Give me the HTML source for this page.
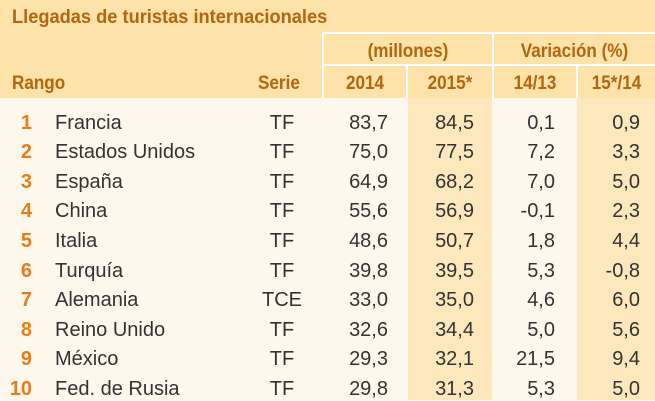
<!DOCTYPE html>
<html><head><meta charset="utf-8"><style>
body{margin:0;width:655px;height:400px;overflow:hidden;background:#fef7ec;font-family:"Liberation Sans",sans-serif;position:relative}
.a{position:absolute;white-space:nowrap}
.h{color:#b4650e;font-weight:bold;font-size:19px}
.hs{transform:scaleX(.9)}
.r{color:#e87c18;font-size:20px;font-weight:bold;text-align:right;width:30px;left:2px}
.t{color:#333;font-size:20px}
.n{text-align:right;width:80px}
.c{text-align:center}
</style></head><body>
<div class="a" style="left:0;top:0;width:655px;height:98px;background:#fde3a9"></div>
<div class="a" style="left:408px;top:98px;width:84px;height:302px;background:#fde7bd"></div>
<div class="a" style="left:577px;top:98px;width:78px;height:302px;background:#fde7bd"></div>
<div class="a" style="left:323px;top:32px;width:332px;height:2px;background:#fff"></div>
<div class="a" style="left:323px;top:64px;width:332px;height:2px;background:#fff"></div>
<div class="a" style="left:322px;top:32px;width:2px;height:66px;background:#fff"></div>
<div class="a" style="left:492px;top:32px;width:2px;height:66px;background:#fff"></div>
<div class="a" style="left:406px;top:64px;width:2px;height:34px;background:#fff"></div>
<div class="a" style="left:576px;top:64px;width:2px;height:34px;background:#fff"></div>
<div class="a h" style="left:12px;top:7px;transform:scaleX(.96);transform-origin:left">Llegadas de turistas internacionales</div>
<div class="a h hs" style="left:12px;top:73px;transform-origin:left">Rango</div>
<div class="a h hs" style="left:258px;top:73px;transform-origin:left">Serie</div>
<div class="a h c hs" style="left:324px;top:41px;width:168px">(millones)</div>
<div class="a h c hs" style="left:494px;top:41px;width:161px">Variación (%)</div>
<div class="a h c hs" style="left:324px;top:73px;width:82px">2014</div>
<div class="a h c hs" style="left:408px;top:73px;width:84px">2015*</div>
<div class="a h c hs" style="left:494px;top:73px;width:82px">14/13</div>
<div class="a h c hs" style="left:578px;top:73px;width:77px">15*/14</div>
<div id="rows"></div>
<script>
var d=[["1","Francia","TF","83,7","84,5","0,1","0,9"],["2","Estados Unidos","TF","75,0","77,5","7,2","3,3"],["3","España","TF","64,9","68,2","7,0","5,0"],["4","China","TF","55,6","56,9","-0,1","2,3"],["5","Italia","TF","48,6","50,7","1,8","4,4"],["6","Turquía","TF","39,8","39,5","5,3","-0,8"],["7","Alemania","TCE","33,0","35,0","4,6","6,0"],["8","Reino Unido","TF","32,6","34,4","5,0","5,6"],["9","México","TF","29,3","32,1","21,5","9,4"],["10","Fed. de Rusia","TF","29,8","31,3","5,3","5,0"]];
var h="";d.forEach(function(r,i){var y=111.5+i*29.6;
h+='<div class="a r" style="top:'+y+'px">'+r[0]+'</div>';
h+='<div class="a t" style="left:55px;top:'+y+'px">'+r[1]+'</div>';
h+='<div class="a t c" style="left:242px;width:80px;top:'+y+'px">'+r[2]+'</div>';
h+='<div class="a t n" style="left:308px;top:'+y+'px">'+r[3]+'</div>';
h+='<div class="a t n" style="left:394px;top:'+y+'px">'+r[4]+'</div>';
h+='<div class="a t n" style="left:475px;top:'+y+'px">'+r[5]+'</div>';
h+='<div class="a t n" style="left:560px;top:'+y+'px">'+r[6]+'</div>';});
document.getElementById("rows").innerHTML=h;
</script>
</body></html>
